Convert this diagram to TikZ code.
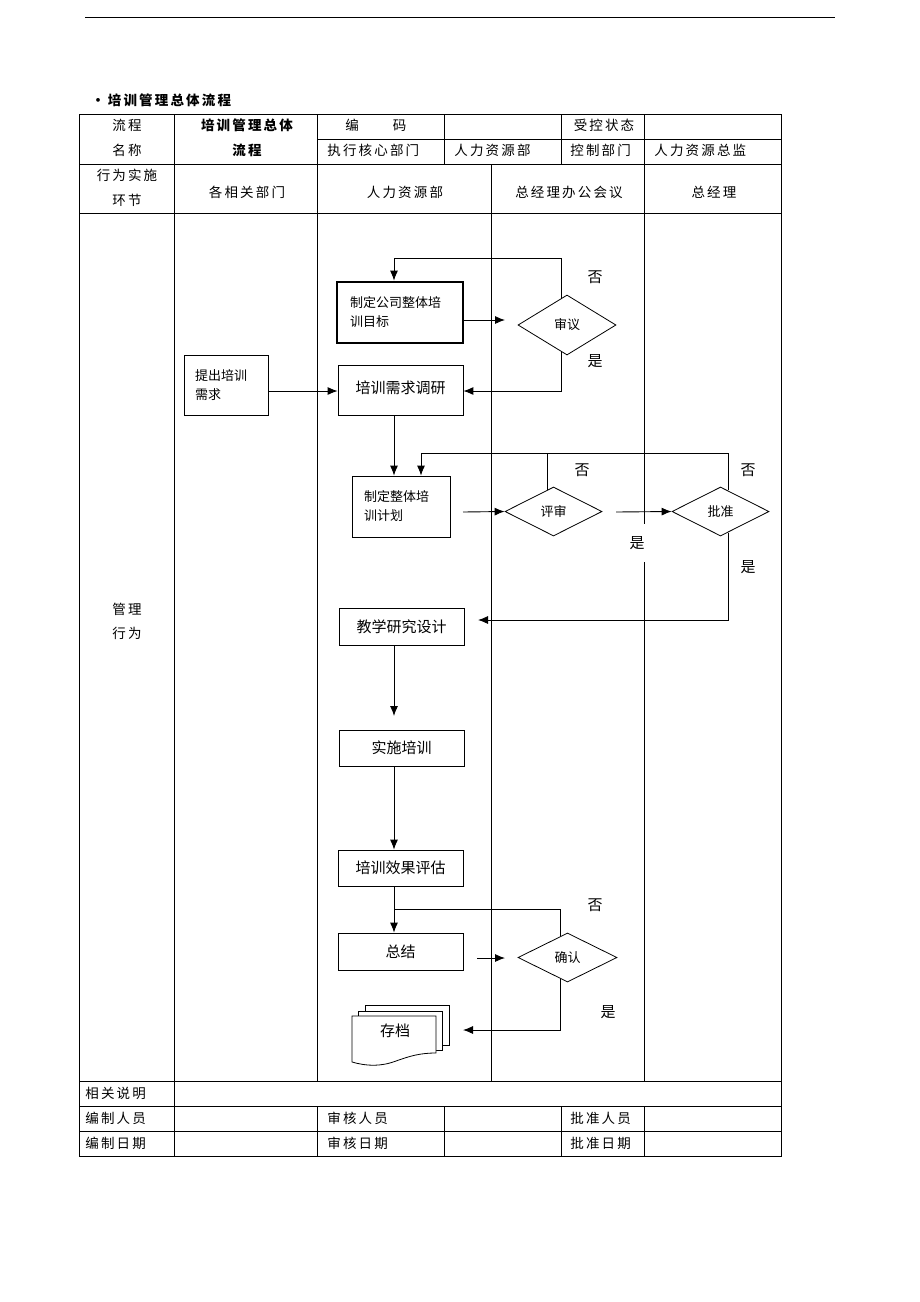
\documentclass[tikz,border=0pt]{standalone}
\usepackage{fontspec}
\setmainfont{Noto Sans CJK SC}
\newfontfamily\cjk{Noto Sans CJK SC}
\newfontfamily\tbl[LetterSpace=16]{Noto Sans CJK SC}
\usetikzlibrary{shapes.geometric,arrows.meta,calc}
\begin{document}
\begin{tikzpicture}[x=1pt,y=-1pt,line width=0.8pt,
  tl/.style={font=\tbl\fontsize{13.5}{15}\selectfont,inner sep=0},
  tlb/.style={font=\tbl\bfseries\fontsize{13.5}{15}\selectfont,inner sep=0},
  fc/.style={font=\cjk\fontsize{15}{18}\selectfont},
  fcs/.style={font=\cjk\fontsize{13}{19}\selectfont},
  proc/.style={draw,rectangle,line width=0.8pt,inner sep=0,fc},
  dec/.style={draw,diamond,inner sep=0,line width=0.8pt,font=\cjk\fontsize{13}{15}\selectfont},
  yn/.style={font=\cjk\fontsize{15}{18}\selectfont,fill=white,inner sep=2pt},
  arr/.style={-{Latex[length=10pt,width=8pt]},line width=0.9pt},
  ln/.style={line width=0.9pt}
]
\useasboundingbox (0,0) rectangle (920,1302);
\fill[white] (0,0) rectangle (920,1302);

% top rule
\draw[line width=0.8pt] (85,17) -- (835,17);

% title
\node[tlb,anchor=west] (title) at (91,100) {·\hspace{3pt}培训管理总体流程};

% table grid
\draw (79,114) rectangle (781,1156);
\draw (317,139) -- (781,139);
\draw (79,164) -- (781,164);
\draw (79,213) -- (781,213);
\draw (79,1081) -- (781,1081);
\draw (79,1106) -- (781,1106);
\draw (79,1131) -- (781,1131);
\draw (174,114) -- (174,1156);
\draw (317,114) -- (317,1081);
\draw (317,1106) -- (317,1156);
\draw (444,114) -- (444,164);
\draw (444,1106) -- (444,1156);
\draw (561,114) -- (561,164);
\draw (561,1106) -- (561,1156);
\draw (644,114) -- (644,1081);
\draw (644,1106) -- (644,1156);
\draw (491,164) -- (491,1081);

% table texts
\node[tl] (c1a) at (127,125) {流程};
\node[tl] (c1b) at (127,150) {名称};
\node[tlb] (c2a) at (247,125) {培训管理总体};
\node[tlb] (c2b) at (247,150) {流程};
\node[tl,anchor=west] (c3a) at (345,125) {编\hspace{34pt}码};
\node[tl] (c5a) at (604,125) {受控状态};
\node[tl,anchor=west] (c3b) at (327,150) {执行核心部门};
\node[tl,anchor=west] (c4b) at (454,150) {人力资源部};
\node[tl,anchor=west] (c5b) at (570,150) {控制部门};
\node[tl,anchor=west] (c6b) at (654,150) {人力资源总监};
\node[tl] (h1a) at (127,175) {行为实施};
\node[tl] (h1b) at (127,200) {环节};
\node[tl] (h2) at (247,192) {各相关部门};
\node[tl] (h3) at (405,192) {人力资源部};
\node[tl] (h4) at (569,192) {总经理办公会议};
\node[tl] (h5) at (714,192) {总经理};
\node[tl] (m1) at (127,609) {管理};
\node[tl] (m2) at (127,633) {行为};
\node[tl,anchor=west] (f1t) at (85,1093) {相关说明};
\node[tl,anchor=west] (f2a) at (85,1118) {编制人员};
\node[tl,anchor=west] (f2b) at (327,1118) {审核人员};
\node[tl,anchor=west] (f2c) at (570,1118) {批准人员};
\node[tl,anchor=west] (f3a) at (85,1143) {编制日期};
\node[tl,anchor=west] (f3b) at (327,1143) {审核日期};
\node[tl,anchor=west] (f3c) at (570,1143) {批准日期};

% flow nodes
\node[proc,line width=2.8pt,minimum width=126,minimum height=61,align=left,text width=100,fcs] (goal) at (400,312.5) {制定公司整体培\\训目标};
\node[proc,minimum width=125,minimum height=50,text depth=6pt] (survey) at (400.5,390) {培训需求调研};
\node[proc,minimum width=84,minimum height=60,align=left,text width=62,fcs] (propose) at (226,385) {提出培训\\需求};
\node[proc,minimum width=98,minimum height=61,align=left,text width=74,fcs] (plan) at (401,506.5) {制定整体培\\训计划};
\node[proc,minimum width=125,minimum height=37] (design) at (401.5,626.5) {教学研究设计};
\node[proc,minimum width=125,minimum height=36] (impl) at (401.5,748) {实施培训};
\node[proc,minimum width=125,minimum height=36] (eval) at (400.5,868) {培训效果评估};
\node[proc,minimum width=125,minimum height=37] (summ) at (400.5,951.5) {总结};

\node[dec,minimum width=98,minimum height=60] (review1) at (567,325) {审议};
\node[dec,minimum width=97,minimum height=49] (review2) at (553.5,511.5) {评审};
\node[dec,minimum width=97,minimum height=49] (approve) at (720.5,511.5) {批准};
\node[dec,minimum width=99,minimum height=49] (confirm) at (567.5,957.5) {确认};

% archive (multi-document)
\draw[fill=white] (365,1005) rectangle (449,1045);
\draw[fill=white] (358,1011) rectangle (442,1050);
\draw[fill=white] (352,1016) -- (436,1016) -- (436,1053)
  .. controls (420,1053) and (410,1056) .. (396,1061)
  .. controls (380,1067) and (366,1066) .. (352,1062) -- cycle;
\node[fc] (arch) at (395,1031) {存档};

% coordinates
\coordinate (g1) at (505,320);
\coordinate (t1) at (394,258);
\coordinate (y1) at (561,391);
\coordinate (fb) at (421,453);
\coordinate (fb2) at (547,453);
\coordinate (p1) at (463,512);
\coordinate (p2) at (616,512);
\coordinate (d1) at (478,620);
\coordinate (d2) at (394,716);
\coordinate (s0) at (394,909);
\coordinate (s1) at (477,958);
\coordinate (s2) at (505,958);
\coordinate (a1) at (463,1030);

% connectors
\draw[arr] (goal.east |- g1) -- (g1);
\draw[arr] ($(review1.north)+(-6,3.7)$) |- (t1) -- (t1 |- goal.north);
\draw[arr] ($(review1.south)+(-6,-3.7)$) -- (y1) -- (survey.east |- y1);
\draw[arr] (propose.east |- y1) -- (survey.west |- y1);
\draw[arr] (survey.south -| t1) -- (plan.north -| t1);
\draw[arr] ($(review2.north)+(-6.5,3.3)$) |- (fb) -- (fb |- plan.north);
\draw[ln] ($(approve.north)+(7.5,3.8)$) |- (fb2);
\draw[arr] (p1) -- (review2.west);
\draw[arr] (p2) -- (approve.west);
\draw[arr] ($(approve.south)+(7.5,-3.8)$) |- (d1);
\draw[arr] (design.south -| t1) -- (d2);
\draw[arr] (impl.south -| t1) -- (eval.north -| t1);
\draw[arr] (eval.south -| t1) -- (summ.north -| t1);
\draw[ln] (s0) -| ($(confirm.north)+(-7.5,3.7)$);
\draw[arr] (s1) -- (s2);
\draw[arr] ($(confirm.south)+(-7.5,-3.7)$) |- (a1);

% yes/no labels
\node[yn] (n1) at (595,277) {否};
\node[yn] (n2) at (595,361) {是};
\node[yn] (n3) at (582,470) {否};
\node[yn] (n4) at (748,470) {否};
\node[yn,inner ysep=12pt] (n5) at (637,543) {是};
\node[yn] (n6) at (748,567) {是};
\node[yn] (n7) at (595,905) {否};
\node[yn] (n8) at (608,1012) {是};
\end{tikzpicture}
\end{document}
